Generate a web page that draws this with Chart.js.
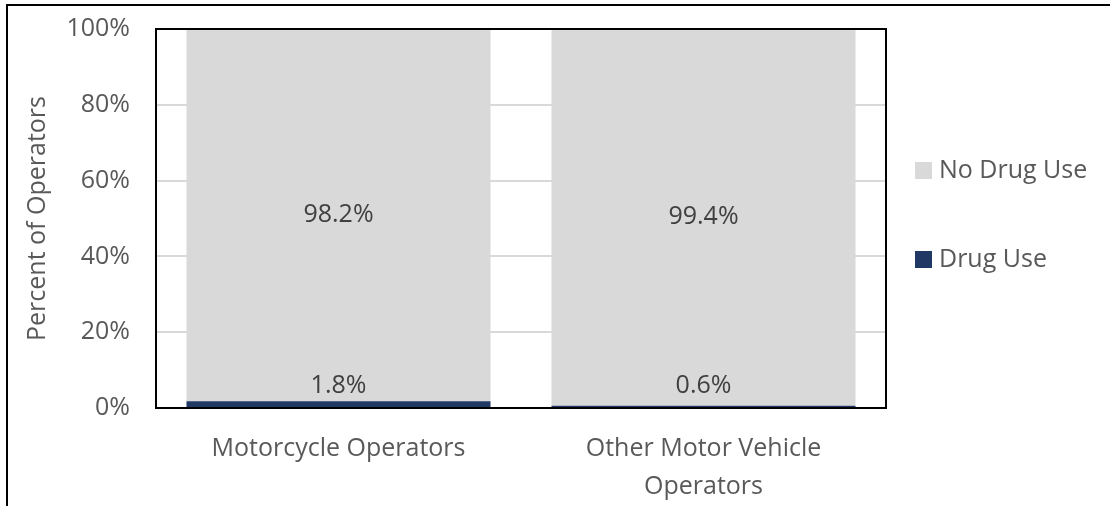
<!DOCTYPE html>
<html>
<head>
<meta charset="utf-8">
<script src="https://cdn.jsdelivr.net/npm/chart.js@4.4.0/dist/chart.umd.min.js"></script>
<style>
  html, body { margin: 0; padding: 0; background: #fff; }
  #wrap { width: 1110px; height: 506px; position: relative; }
</style>
</head>
<body>
<div id="wrap"><canvas id="myChart" width="1110" height="506"></canvas></div>
<script>
// Data
const categories = ["Motorcycle Operators", ["Other Motor Vehicle", "Operators"]];
const drugUse = [1.8, 0.6];
const noDrugUse = [98.2, 99.4];
const yTicks = [0, 20, 40, 60, 80, 100];

const FONT = "'Open Sans', sans-serif";
const FSIZE = 25;
const GREY_TEXT = "#595959";

// outer frame (top and left edges visible)
const framePlugin = {
  id: "frame",
  beforeDraw(chart) {
    const c = chart.ctx;
    c.save();
    c.fillStyle = "#000";
    c.fillRect(6, 4, chart.width - 6, 2);
    c.fillRect(6, 4, 2, chart.height - 4);
    c.restore();
  },
  afterDatasetsDraw(chart) {
    // black box round the plot area
    const a = chart.chartArea;
    const c = chart.ctx;
    c.save();
    c.strokeStyle = "#000";
    c.lineWidth = 2;
    c.strokeRect(a.left, a.top, a.right - a.left, a.bottom - a.top);
    c.restore();
  },
};

// value labels - small segments get pushed up so the text fits
const labelPlugin = {
  id: "barLabels",
  afterDatasetsDraw(chart) {
    const c = chart.ctx;
    c.save();
    c.font = FSIZE + "px " + FONT;
    c.fillStyle = "#404040";
    c.textAlign = "center";
    c.textBaseline = "middle";
    chart.data.datasets.forEach((ds, di) => {
      chart.getDatasetMeta(di).data.forEach((bar, i) => {
        const txt = ds.data[i].toFixed(1) + "%";
        let y = (bar.y + bar.base) / 2;
        if (di === 0) y = Math.min(y, bar.base - 21);
        c.fillText(txt, bar.x, y);
      });
    });
    c.restore();
  },
};

// legend on the right
const legendPlugin = {
  id: "sideLegend",
  afterDraw(chart) {
    const c = chart.ctx;
    const items = chart.data.datasets.slice().reverse();
    const ys = [170.5, 259.5];
    c.save();
    c.font = FSIZE + "px " + FONT;
    c.textBaseline = "middle";
    c.textAlign = "left";
    items.forEach((ds, i) => {
      c.fillStyle = ds.backgroundColor;
      c.fillRect(915, ys[i] - 8.5, 17, 17);
      c.fillStyle = GREY_TEXT;
      c.fillText(ds.label, 939, ys[i]);
    });
    c.restore();
  },
};

const ctx = document.getElementById("myChart").getContext("2d");

const myChart = new Chart(ctx, {
  type: "bar",
  data: {
    labels: categories,
    datasets: [
      {
        label: "Drug Use",
        data: drugUse,
        backgroundColor: "#1f3864",
        barPercentage: 0.833,
        categoryPercentage: 1,
      },
      {
        label: "No Drug Use",
        data: noDrugUse,
        backgroundColor: "#d9d9d9",
        barPercentage: 0.833,
        categoryPercentage: 1,
      },
    ],
  },
  options: {
    responsive: false,
    animation: false,
    layout: { padding: { top: 29, right: 224, left: 0, bottom: 0 } },
    plugins: {
      legend: { display: false },
      tooltip: { enabled: false },
    },
    scales: {
      x: {
        stacked: true,
        grid: { display: false },
        border: { display: false },
        ticks: {
          color: GREY_TEXT,
          font: { family: FONT, size: FSIZE, lineHeight: 1.52 },
          padding: 14,
          maxRotation: 0,
        },
        afterFit(scale) {
          scale.height = 98;
          scale.paddingLeft = 0;
          scale.paddingRight = 0;
        },
      },
      y: {
        stacked: true,
        min: 0,
        max: 100,
        afterBuildTicks(scale) { scale.ticks = yTicks.map((v) => ({ value: v })); },
        ticks: {
          color: GREY_TEXT,
          font: { family: FONT, size: FSIZE },
          padding: 26,
          callback: (v) => v + "%",
        },
        grid: { color: "#d9d9d9", lineWidth: 2, drawTicks: false },
        border: { display: false },
        title: {
          display: true,
          text: "Percent of Operators",
          color: GREY_TEXT,
          font: { family: FONT, size: FSIZE },
          padding: { top: 23, bottom: 0 },
        },
        afterFit(scale) {
          scale.width = 156;
          scale.paddingTop = 0;
          scale.paddingBottom = 0;
        },
      },
    },
  },
  plugins: [framePlugin, labelPlugin, legendPlugin],
});
</script>
</body>
</html>
